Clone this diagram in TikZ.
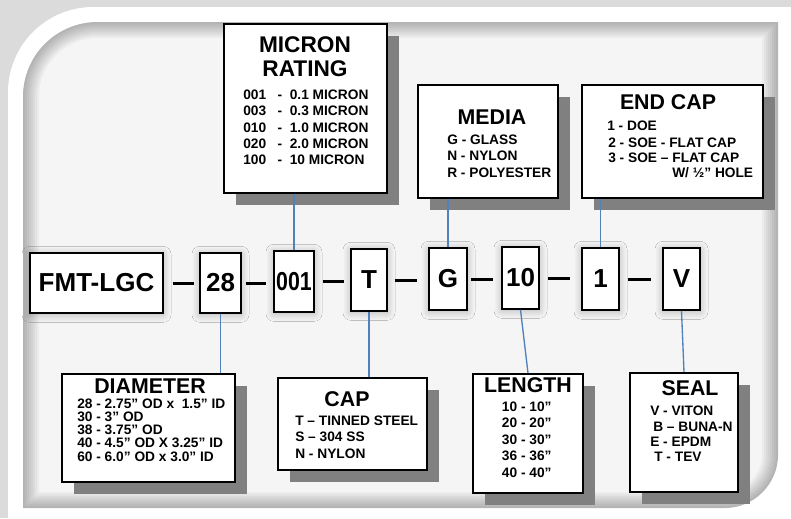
\documentclass[tikz,border=0pt]{standalone}
\usepackage{fontspec}
\setmainfont{Liberation Sans}
\usepackage{graphicx}
\usetikzlibrary{shadows, shadows.blur}

\definecolor{linkblue}{RGB}{79,129,189}
\definecolor{shadowgray}{RGB}{128,128,128}

\tikzset{
  codebox/.style={draw=black, line width=1.1pt, fill=white, inner sep=0pt,
    font=\bfseries\fontsize{19.5}{23}\selectfont,
    blur shadow={shadow blur steps=16, shadow xshift=0pt, shadow yshift=-1pt,
      shadow blur radius=6pt, shadow opacity=28}},
  infobox/.style={draw=black, line width=1.2pt, fill=white, inner sep=0pt,
    drop shadow={shadow xshift=9pt, shadow yshift=-9pt, fill=shadowgray, opacity=1}},
  boxtitle/.style={font=\bfseries\fontsize{16}{18}\selectfont, anchor=base, inner sep=0pt},
  boxitem/.style={font=\bfseries\fontsize{10.3}{12}\selectfont, anchor=base west, inner sep=0pt},
  link/.style={draw=linkblue, line width=1pt},
  hyphen/.style={line width=2.25pt},
}

\begin{document}
\begin{tikzpicture}[x=0.75pt, y=-0.75pt]

  %% frame
  \fill[black!14] (0,0) rectangle (791,518);
  \fill[white] (8,518) [rounded corners=64pt] -- (8,7) [sharp corners] -- (791,7) -- (791,518) -- cycle;
  \begin{scope}
    \clip (23,508) [rounded corners=56pt] -- (23,22) [sharp corners] -- (778,22)
      [rounded corners=40pt] -- (778,508) [sharp corners] -- cycle;
    \fill[black!4] (0,0) rectangle (791,518);
    \foreach \w in {3,6,...,24}
      \draw[black, opacity=0.035, line width=\w pt] (23,508) [rounded corners=56pt] -- (23,22)
        [sharp corners] -- (778,22) [rounded corners=40pt] -- (778,508) [sharp corners] -- cycle;
  \end{scope}

  %% part number
  \node[codebox, minimum width=99.75pt, minimum height=45pt]   (fmt)  at (96.5,283)  {FMT-LGC};
  \node[codebox, minimum width=30.75pt, minimum height=45pt]   (d28)  at (220.5,283) {28};
  \node[codebox, minimum width=30pt,    minimum height=45.75pt] (d001) at (294,281.5) {\scalebox{0.82}[1]{001}};
  \node[codebox, minimum width=27pt,    minimum height=46.5pt] (dT)   at (369,280)   {T};
  \node[codebox, minimum width=28.5pt,  minimum height=46.5pt] (dG)   at (448,279)   {G};
  \node[codebox, minimum width=27.75pt, minimum height=46.5pt] (d10)  at (520.5,278) {10};
  \node[codebox, minimum width=27.75pt, minimum height=46.5pt] (d1)   at (600.5,279) {1};
  \node[codebox, minimum width=27.75pt, minimum height=46.5pt] (dV)   at (681.5,279) {V};

  \foreach \a/\b/\l/\r in {fmt/d28/6.75/3.75, d28/d001/3/5.25, d001/dT/6/4.5, dT/dG/5.25/8.25,
                           dG/d10/2.25/6, d10/d1/6/8.25, d1/dV/6/8.25}
    \draw[hyphen, shorten <=\l pt, shorten >=\r pt] (\a.east) -- (\a.east -| \b.west);

  %% option boxes
  \node[infobox, minimum width=122.25pt, minimum height=126.75pt] (micron)   at (305.5,108.5) {};
  \node[infobox, minimum width=105pt,    minimum height=84.75pt]  (media)    at (488,141.5)   {};
  \node[infobox, minimum width=135.75pt, minimum height=84.75pt]  (endcap)   at (672.5,141.5) {};
  \node[infobox, minimum width=129.75pt, minimum height=81pt]     (diameter) at (148.5,428)   {};
  \node[infobox, minimum width=111.75pt, minimum height=69pt]     (capbox)   at (352.5,424)   {};
  \node[infobox, minimum width=82.5pt,   minimum height=89.25pt]  (length)   at (528,433.5)   {};
  \node[infobox, minimum width=81pt,     minimum height=89.25pt]  (seal)     at (684,432.5)   {};

  \draw[link] (d001.north) -- (d001.north |- micron.south);
  \draw[link] (dG.north) -- (dG.north |- media.south);
  \draw[link] (d1.north) -- (d1.north |- endcap.south);
  \draw[link] (d28.south) -- (d28.south |- diameter.north);
  \draw[link] (dT.south) -- (dT.south |- capbox.north);
  \draw[link] (d10.south) -- (length.north);
  \draw[link] (dV.south) -- (seal.north);

  % micron rating
  \node[boxtitle, font=\bfseries\fontsize{17}{18}\selectfont] (micron-t1) at (305,52) {MICRON};
  \node[boxtitle, font=\bfseries\fontsize{17}{18}\selectfont] (micron-t2) at (305,76) {RATING};
  \foreach \t [count=\i] in {001~~~-~~0.1 MICRON, 003~~~-~~0.3 MICRON, 010~~~-~~1.0 MICRON,
                             020~~~-~~2.0 MICRON, 100~~~-~~10 MICRON}
    \node[boxitem] (micron-\i) at (243,{99.3+16.4*(\i-1)}) {\t};

  % media
  \node[boxtitle] (media-t) at (492,124) {MEDIA};
  \foreach \t [count=\i] in {G - GLASS, N - NYLON, R - POLYESTER}
    \node[boxitem] (media-\i) at (447,{144+16.5*(\i-1)}) {\t};

  % end cap
  \node[boxtitle] (endcap-t) at (668,109) {END CAP};
  \node[boxitem] (endcap-1) at (607,130) {1 - DOE};
  \node[boxitem] (endcap-2) at (608,147) {2 - SOE - FLAT CAP};
  \node[boxitem] (endcap-3) at (608,162) {3 - SOE – FLAT CAP};
  \node[boxitem] (endcap-4) at (672,177) {W/ ½” HOLE};

  % diameter
  \node[boxtitle] (diameter-t) at (150,393) {DIAMETER};
  \foreach \t [count=\i] in {28 - 2.75” OD x~~1.5” ID, 30 - 3” OD, 38 - 3.75” OD,
                             40 - 4.5” OD X 3.25” ID, 60 - 6.0” OD x 3.0” ID}
    \node[boxitem] (diameter-\i) at (77,{408.3+13.2*(\i-1)}) {\t};

  % cap
  \node[boxtitle] (capbox-t) at (347,406.7) {CAP};
  \foreach \t [count=\i] in {T – TINNED STEEL, S – 304 SS, N - NYLON}
    \node[boxitem] (capbox-\i) at (295,{425+16.6*(\i-1)}) {\t};

  % length
  \node[boxtitle] (length-t) at (528,392.3) {LENGTH};
  \foreach \t [count=\i] in {10 - 10”, 20 - 20”, 30 - 30”, 36 - 36”, 40 - 40”}
    \node[boxitem] (length-\i) at (501.7,{411+16.6*(\i-1)}) {\t};

  % seal
  \node[boxtitle] (seal-t) at (690,395) {SEAL};
  \node[boxitem] (seal-1) at (650,415)   {V - VITON};
  \node[boxitem] (seal-2) at (653,431.7) {B – BUNA-N};
  \node[boxitem] (seal-3) at (650,446.7) {E - EPDM};
  \node[boxitem] (seal-4) at (654,461.7) {T - TEV};

\end{tikzpicture}
\end{document}
